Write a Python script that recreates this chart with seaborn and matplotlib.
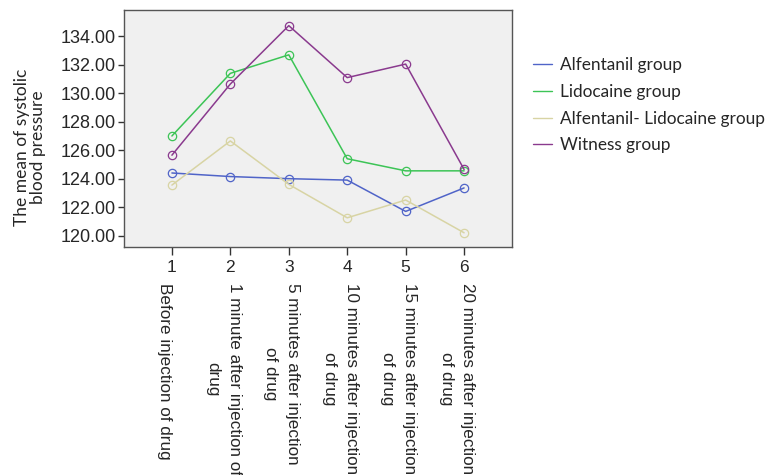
import matplotlib
matplotlib.use("Agg")
import matplotlib.pyplot as plt
import matplotlib.transforms as mtransforms
from matplotlib.lines import Line2D
import seaborn as sns
import pandas as pd

time_points = [1, 2, 3, 4, 5, 6]
time_labels = [
    "Before injection of drug",
    "1 minute after injection of\ndrug",
    "5 minutes after injection\nof drug",
    "10 minutes after injection\nof drug",
    "15 minutes after injection\nof drug",
    "20 minutes after injection\nof drug",
]
groups = ["Alfentanil group", "Lidocaine group", "Alfentanil- Lidocaine group", "Witness group"]
alfentanil = [124.40, 124.15, 124.00, 123.90, 121.70, 123.35]
lidocaine = [127.00, 131.40, 132.70, 125.40, 124.55, 124.55]
alf_lido = [123.55, 126.65, 123.60, 121.25, 122.50, 120.20]
witness = [125.65, 130.65, 134.75, 131.10, 132.05, 124.65]
yticks = [120, 122, 124, 126, 128, 130, 132, 134]

colors = ["#5064C8", "#3CC456", "#D8D4A4", "#8A3A8E"]

series = [alfentanil, lidocaine, alf_lido, witness]
rows = []
for g, vals in zip(groups, series):
    for t, v in zip(time_points, vals):
        rows.append({"time": t, "value": v, "group": g})
df = pd.DataFrame(rows)

sns.set_style("ticks")
plt.rcParams["font.family"] = ["Liberation Sans", "DejaVu Sans"]

fig = plt.figure(figsize=(7.72, 4.75), dpi=100)
ax = fig.add_axes([124 / 772, 1 - 247 / 475, 388 / 772, 237 / 475])
ax.set_facecolor("#F0F0F0")

sns.lineplot(data=df, x="time", y="value", hue="group", hue_order=groups,
             palette=colors, marker="o", markersize=6, markerfacecolor="none",
             markeredgewidth=0.9, linewidth=1.1, legend=False, ax=ax)
for line in ax.lines:
    line.set_markeredgecolor(line.get_color())
    line.set_clip_on(False)

ax.set_xlim(0.18, 6.82)
ax.set_ylim(119.2, 135.85)
ax.set_xticks(time_points)
ax.set_xticklabels([str(t) for t in time_points], fontsize=12.5)
ax.set_yticks(yticks)
ax.set_yticklabels([f"{v:.2f}" for v in yticks], fontsize=13)
ax.tick_params(axis="both", direction="out", length=4, width=1, color="#333333", pad=2)
ax.tick_params(axis="x", length=6, pad=3)
for s in ax.spines.values():
    s.set_visible(True)
    s.set_color("#555555")
    s.set_linewidth(1.0)

ax.set_xlabel("")
ax.set_ylabel("The mean of systolic\nblood pressure", fontfamily="Lato", fontsize=12.5,
              linespacing=1.0)
ax.yaxis.set_label_coords(-0.201, 0.42)

lab_trans = mtransforms.offset_copy(ax.get_xaxis_transform(), fig=fig, x=-7, y=0, units="dots")
for t, lab in zip(time_points, time_labels):
    ax.text(t, -36 / 237, lab, transform=lab_trans,
            rotation=270, rotation_mode="anchor", ha="left", va="center",
            multialignment="center", fontsize=12.3, linespacing=1.55, clip_on=False)

handles = [Line2D([0], [0], color=c, lw=1.0) for c in colors]
leg = fig.legend(handles, groups, loc="upper left", bbox_to_anchor=(526 / 772, 1 - 50 / 475),
                 frameon=False, handlelength=1.1, handletextpad=0.5, borderaxespad=0,
                 labelspacing=0.63, prop={"family": "Lato", "size": 12.4})

fig.savefig("out.png", dpi=100)
